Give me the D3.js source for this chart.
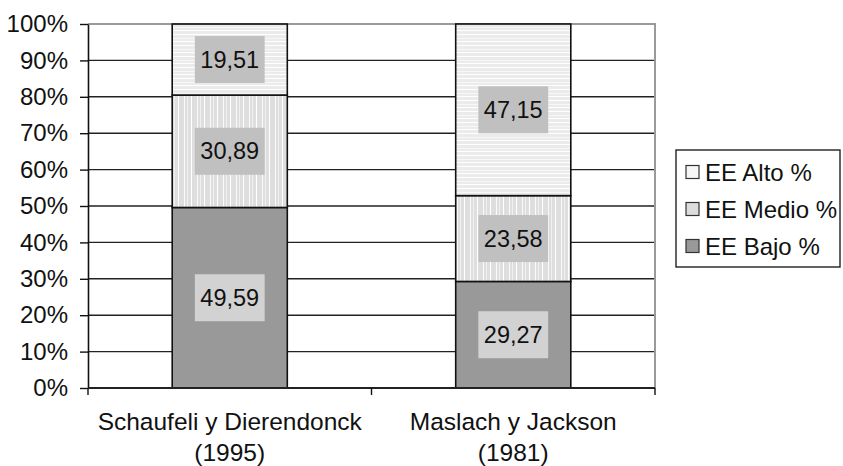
<!DOCTYPE html>
<html>
<head>
<meta charset="utf-8">
<script src="https://cdn.jsdelivr.net/npm/d3@7/dist/d3.min.js"></script>
<style>
  html, body { margin: 0; padding: 0; background: #fff; }
  svg { display: block; font-family: "Liberation Sans", Arial, sans-serif; }
</style>
</head>
<body>
<svg id="chart" width="843" height="466"></svg>
<script>
// Studies on the x axis (two-line labels)
const studies = ["Schaufeli y Dierendonck (1995)", "Maslach y Jackson (1981)"];
const studyLines = [["Schaufeli y Dierendonck", "(1995)"], ["Maslach y Jackson", "(1981)"]];

// Percentage of each EE level per study
const eeBajo  = [49.59, 29.27];
const eeMedio = [30.89, 23.58];
const eeAlto  = [19.51, 47.15];

// Series names (bottom to top in the stack)
const seriesNames = ["EE Bajo %", "EE Medio %", "EE Alto %"];
const seriesKeys = ["bajo", "medio", "alto"];

// Y axis ticks
const yTicks = [0, 10, 20, 30, 40, 50, 60, 70, 80, 90, 100];

const fmt = v => d3.format(".2f")(v).replace(".", ",");

const rows = studies.map((s, i) => ({ study: s, bajo: eeBajo[i], medio: eeMedio[i], alto: eeAlto[i] }));

const svg = d3.select("#chart");
const plot = { left: 88, right: 655, top: 24, bottom: 388 };

const x = d3.scaleBand().domain(studies).range([plot.left, plot.right])
  .paddingInner(0.594).paddingOuter(0.297);
const y = d3.scaleLinear().domain([0, 100]).range([plot.bottom, plot.top]);

// Fill patterns for the light segments
const defs = svg.append("defs");
const hp = defs.append("pattern").attr("id", "pat-alto").attr("patternUnits", "userSpaceOnUse")
  .attr("width", 8).attr("height", 11);
hp.append("rect").attr("width", 8).attr("height", 11).attr("fill", "#ebebeb");
hp.append("rect").attr("y", 1).attr("width", 8).attr("height", 1).attr("fill", "#ffffff");
hp.append("rect").attr("y", 5).attr("width", 8).attr("height", 1).attr("fill", "#f7f7f7");
hp.append("rect").attr("y", 8).attr("width", 8).attr("height", 1).attr("fill", "#ffffff");

const vp = defs.append("pattern").attr("id", "pat-medio").attr("patternUnits", "userSpaceOnUse")
  .attr("width", 13).attr("height", 8);
vp.append("rect").attr("width", 13).attr("height", 8).attr("fill", "#dedede");
vp.append("rect").attr("x", 2).attr("width", 1).attr("height", 8).attr("fill", "#fafafa");
vp.append("rect").attr("x", 5).attr("width", 1).attr("height", 8).attr("fill", "#f0f0f0");
vp.append("rect").attr("x", 9).attr("width", 1).attr("height", 8).attr("fill", "#ffffff");

const fills = { bajo: "#999999", medio: "url(#pat-medio)", alto: "url(#pat-alto)" };
const swatch = { bajo: "#999999", medio: "#dcdcdc", alto: "#f6f6f6" };
const labelFill = { bajo: "#d2d2d2", medio: "#c0c0c0", alto: "#c0c0c0" };

// Horizontal gridlines
svg.append("g").selectAll("line").data(yTicks.filter(t => t > 0 && t < 100)).join("line")
  .attr("x1", plot.left).attr("x2", plot.right)
  .attr("y1", d => y(d)).attr("y2", d => y(d))
  .attr("stroke", "#222").attr("stroke-width", 1.4);

// Plot area border (top and right)
svg.append("path")
  .attr("d", `M${plot.left},${y(100)}H${plot.right}V${plot.bottom}`)
  .attr("fill", "none").attr("stroke", "#9a9a9a").attr("stroke-width", 2);

// Stacked bars
const stacked = d3.stack().keys(seriesKeys)(rows);
const barG = svg.append("g");
stacked.forEach(layer => {
  barG.append("g").selectAll("rect").data(layer).join("rect")
    .attr("x", d => x(d.data.study))
    .attr("width", x.bandwidth())
    .attr("y", d => y(d[1]))
    .attr("height", d => y(d[0]) - y(d[1]))
    .attr("fill", fills[layer.key])
    .attr("stroke", "#111").attr("stroke-width", 1.6);
});

// Value labels with filled boxes
const labG = svg.append("g");
stacked.forEach(layer => {
  layer.forEach(d => {
    const v = d.data[layer.key];
    const cx = x(d.data.study) + x.bandwidth() / 2;
    const cy = y((d[0] + d[1]) / 2);
    const g = labG.append("g");
    const t = g.append("text").attr("x", cx).attr("y", cy)
      .attr("text-anchor", "middle").attr("dominant-baseline", "central")
      .attr("font-size", 23.5).attr("fill", "#111").text(fmt(v));
    const w = t.node().getComputedTextLength() + 11;
    g.insert("rect", "text").attr("x", cx - w / 2).attr("y", cy - 23.5)
      .attr("width", w).attr("height", 47).attr("fill", labelFill[layer.key]);
  });
});

// Y axis
const yAxis = svg.append("g").attr("transform", `translate(${plot.left},0)`)
  .call(d3.axisLeft(y).tickValues(yTicks).tickFormat(d => d + "%").tickSize(8).tickSizeOuter(0).tickPadding(12));
yAxis.select(".domain").attr("stroke", "#111").attr("stroke-width", 1.6);
yAxis.selectAll(".tick line").attr("stroke", "#111").attr("stroke-width", 1.4);
yAxis.selectAll(".tick text").attr("font-size", 24).attr("fill", "#111")
  .attr("font-family", "Liberation Sans, Arial, sans-serif");

// X axis line with ticks at category boundaries
const bounds = [plot.left].concat(studies.map(s => x(s) + x.bandwidth() + x.step() * x.paddingInner() / 2));
bounds[bounds.length - 1] = plot.right;
const xAxisG = svg.append("g");
xAxisG.append("line").attr("x1", plot.left).attr("x2", plot.right)
  .attr("y1", plot.bottom).attr("y2", plot.bottom)
  .attr("stroke", "#222").attr("stroke-width", 1.8);
xAxisG.selectAll("line.tk").data(bounds).join("line").attr("class", "tk")
  .attr("x1", d => d).attr("x2", d => d)
  .attr("y1", plot.bottom).attr("y2", plot.bottom + 7)
  .attr("stroke", "#111").attr("stroke-width", 1.4);

// Category labels
studies.forEach((s, i) => {
  const t = svg.append("text").attr("text-anchor", "middle")
    .attr("font-size", 24.5).attr("fill", "#111");
  studyLines[i].forEach((ln, j) => {
    t.append("tspan").attr("x", x(s) + x.bandwidth() / 2)
      .attr("y", 430 + j * 31).text(ln);
  });
});

// Legend (top to bottom: Alto, Medio, Bajo)
const legend = svg.append("g");
legend.append("rect").attr("x", 676).attr("y", 150).attr("width", 164).attr("height", 117)
  .attr("fill", "#fff").attr("stroke", "#222").attr("stroke-width", 1.4);
const legendKeys = seriesKeys.slice().reverse();
legendKeys.forEach((k, i) => {
  const cy = 172 + i * 37;
  legend.append("rect").attr("x", 686).attr("y", cy - 6.5).attr("width", 13).attr("height", 13)
    .attr("fill", swatch[k]).attr("stroke", "#333").attr("stroke-width", 1.2);
  legend.append("text").attr("x", 705).attr("y", cy).attr("dominant-baseline", "central")
    .attr("font-size", 24).attr("fill", "#111").text(seriesNames[seriesKeys.indexOf(k)]);
});
</script>
</body>
</html>
